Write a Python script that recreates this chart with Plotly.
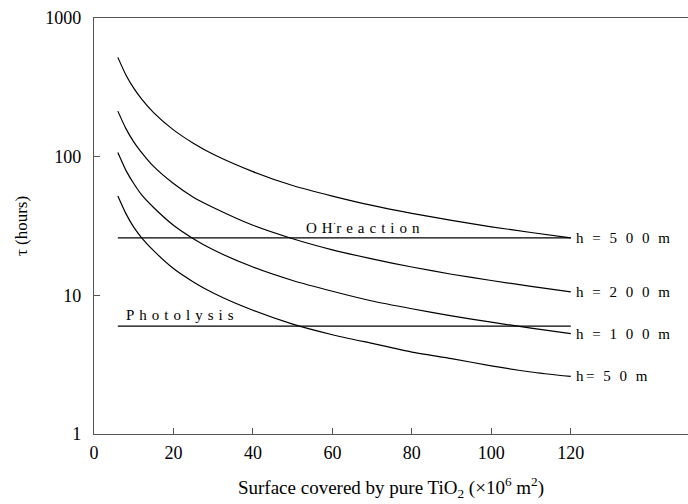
import math
import plotly.graph_objects as go

# Surface covered by pure TiO2 (x10^6 m^2)
x_pts = [6, 8, 10, 12, 15, 20, 25, 30, 40, 50, 60, 70, 80, 90, 100, 110, 120]
tau_500 = [520, 390, 312, 260, 208, 156, 125, 104, 78, 62, 52, 44.5, 39, 34.7, 31.2, 28.4, 26]
tau_200 = [213, 160, 128, 107, 85, 64, 51, 43, 32, 25.6, 21.3, 18.3, 16, 14.2, 12.8, 11.6, 10.6]
tau_100 = [107, 80, 64, 53, 43, 32, 25.6, 21.3, 16, 12.8, 10.7, 9.1, 8, 7.1, 6.4, 5.8, 5.3]
tau_50 = [52, 39, 31, 26, 21, 15.6, 12.5, 10.4, 7.8, 6.2, 5.2, 4.5, 3.9, 3.5, 3.1, 2.8, 2.6]

series = [("h = 500 m", tau_500), ("h = 200 m", tau_200),
          ("h = 100 m", tau_100), ("h= 50 m", tau_50)]

ref_x = [6, 120]
oh_tau = [26, 26]
phot_tau = [6, 6]

x_ticks = [0, 20, 40, 60, 80, 100, 120]
y_ticks = [1, 10, 100, 1000]

FONT = "Liberation Serif, Times New Roman, serif"
GAP_WIDE = "\u2004"
GAP_NARROW = "\u2006"


def spaced(s, gap):
    return gap.join(list(s))


fig = go.Figure()
for name, ys in series:
    fig.add_trace(go.Scatter(x=x_pts, y=ys, mode="lines", name=name,
                             line=dict(color="black", width=1.2, shape="spline", smoothing=0.6),
                             showlegend=False, hoverinfo="skip"))
for ys in (oh_tau, phot_tau):
    fig.add_trace(go.Scatter(x=ref_x, y=ys, mode="lines",
                             line=dict(color="black", width=1.2),
                             showlegend=False, hoverinfo="skip"))

# annotations on a log axis take log10 positions
for name, ys in series:
    fig.add_annotation(x=x_pts[-1], y=math.log10(ys[-1]), xref="x", yref="y",
                       text=spaced(name.replace("500", "5 0 0").replace("200", "2 0 0")
                                   .replace("100", "1 0 0").replace("50", "5 0"), GAP_NARROW),
                       showarrow=False, xanchor="left", yanchor="middle", xshift=3,
                       font=dict(family=FONT, size=15, color="black"))

fig.add_annotation(x=52.8, y=math.log10(oh_tau[0]), xref="x", yref="y",
                   text="O" + GAP_WIDE + "H<sup>·</sup>" + spaced("reaction", GAP_WIDE),
                   showarrow=False, xanchor="left", yanchor="bottom", yshift=0,
                   font=dict(family=FONT, size=15, color="black"))
fig.add_annotation(x=7.5, y=math.log10(phot_tau[0]), xref="x", yref="y",
                   text=spaced("Photolysis", GAP_WIDE),
                   showarrow=False, xanchor="left", yanchor="bottom", yshift=1,
                   font=dict(family=FONT, size=15, color="black"))

fig.update_layout(
    width=688, height=504,
    margin=dict(l=94, r=0, t=18, b=70),
    paper_bgcolor="white", plot_bgcolor="white",
    font=dict(family=FONT, size=18, color="black"),
    xaxis=dict(range=[0, 149.5], tickvals=x_ticks, ticktext=[str(v) for v in x_ticks],
               ticks="inside", ticklen=6, tickcolor="#555", showline=True, linecolor="#555",
               linewidth=1.3, mirror=True, showgrid=False, zeroline=False,
               ticklabelstandoff=2,
               title=dict(text="Surface covered by pure TiO<sub>2</sub> (×10<sup>6</sup> m<sup>2</sup>)",
                          standoff=18, font=dict(size=19))),
    yaxis=dict(type="log", range=[0, 3], tickvals=y_ticks, ticktext=[str(v) for v in y_ticks],
               ticks="inside", ticklen=6, tickcolor="#555", showline=True, linecolor="#555",
               linewidth=1.3, mirror=False, showgrid=False, zeroline=False,
               ticklabelstandoff=8,
               title=dict(text="τ (hours)", standoff=13, font=dict(size=17))),
)

fig.write_html("out.html")
